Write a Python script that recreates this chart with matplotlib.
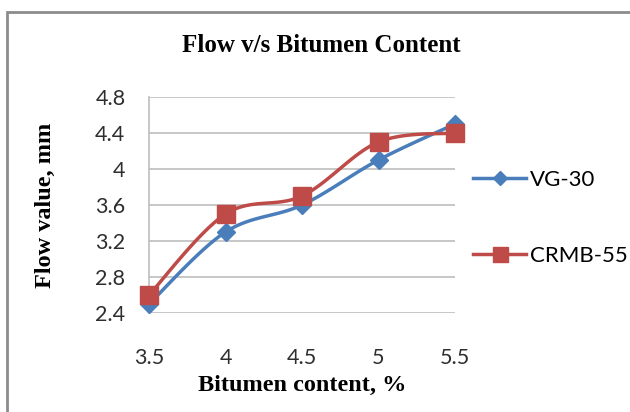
import numpy as np
import matplotlib.pyplot as plt
from matplotlib.patches import Rectangle

# data
bitumen = [3.5, 4.0, 4.5, 5.0, 5.5]
vg30 = [2.5, 3.3, 3.6, 4.1, 4.5]
crmb55 = [2.6, 3.5, 3.7, 4.3, 4.4]
yticks = [2.4, 2.8, 3.2, 3.6, 4.0, 4.4, 4.8]
ylabels = ['2.4', '2.8', '3.2', '3.6', '4', '4.4', '4.8']
xticks = [3.5, 4.0, 4.5, 5.0, 5.5]
xlabels = ['3.5', '4', '4.5', '5', '5.5']

blue = '#4A7EBB'
red = '#BE4B48'
grid_c = '#BDBDBD'


def smooth(x, y, n=30):
    # Excel-like smoothed line: cubic bezier through the points (Catmull-Rom)
    x = np.asarray(x, float)
    y = np.asarray(y, float)
    px = np.concatenate([[x[0]], x, [x[-1]]])
    py = np.concatenate([[y[0]], y, [y[-1]]])
    xs, ys = [], []
    t = np.linspace(0, 1, n)
    for i in range(1, len(px) - 2):
        p0 = np.array([px[i], py[i]])
        p3 = np.array([px[i + 1], py[i + 1]])
        c1 = p0 + (np.array([px[i + 1], py[i + 1]]) - np.array([px[i - 1], py[i - 1]])) / 6
        c2 = p3 - (np.array([px[i + 2], py[i + 2]]) - np.array([px[i], py[i]])) / 6
        b = ((1 - t) ** 3)[:, None] * p0 + (3 * (1 - t) ** 2 * t)[:, None] * c1 \
            + (3 * (1 - t) * t ** 2)[:, None] * c2 + (t ** 3)[:, None] * p3
        xs.extend(b[:, 0])
        ys.extend(b[:, 1])
    return xs, ys


fig = plt.figure(figsize=(6.3, 4.12), dpi=100)
ax = fig.add_axes([149 / 630, 1 - 313 / 412, 306 / 630, 216 / 412])

tick_font = 'Lato'
serif = 'Liberation Serif'

for vals, col, mk, ms, lab in [(vg30, blue, 'D', 9, 'VG-30'),
                              (crmb55, red, 's', 13.5, 'CRMB-55')]:
    sx, sy = smooth(bitumen, vals)
    ax.plot(sx, sy, color=col, lw=2.5, solid_capstyle='round', zorder=3)
    ax.plot(bitumen, vals, ls='none', marker=mk, ms=ms, color=col,
            mec=col, zorder=4, clip_on=False)
    ax.plot([], [], color=col, lw=2.5, marker=mk, ms=ms * 0.8, label=lab)

ax.set_xlim(3.5, 5.5)
ax.set_ylim(2.4, 4.8)
ax.set_yticks(yticks)
ax.set_yticklabels(ylabels, fontsize=15.5, family=tick_font, color='#2E2E2E')
ax.set_xticks(xticks)
ax.set_xticklabels(xlabels, fontsize=15.5, family=tick_font, color='#2E2E2E')
ax.tick_params(axis='y', length=0, pad=17)
ax.tick_params(axis='x', length=0, pad=25)
ax.yaxis.grid(True, color=grid_c, lw=1.2)
ax.set_axisbelow(True)
for s in ['top', 'right', 'bottom']:
    ax.spines[s].set_visible(False)
ax.spines['left'].set_color(grid_c)
ax.spines['left'].set_linewidth(1.2)

ax.set_ylabel('Flow value, mm', fontsize=17.5, family=serif, fontweight='bold', labelpad=28)
ax.set_xlabel('Bitumen content, %', fontsize=17.5, family=serif, fontweight='bold', labelpad=5)
fig.text(321 / 630, 1 - 45 / 412, 'Flow v/s Bitumen Content', ha='center', va='center',
         fontsize=18, family=serif, fontweight='bold')

leg = ax.legend(loc='center left', bbox_to_anchor=(0.995, 0.44), frameon=False,
                prop={'family': tick_font, 'size': 16}, handlelength=2.35,
                handletextpad=0.18, labelspacing=2.52)

# outer chart border
fig.patches.append(Rectangle((7 / 630, -0.05), 1.1, 1 - 12 / 412 + 0.05,
                             transform=fig.transFigure, fill=False,
                             edgecolor='#8C8C8C', lw=2))

fig.savefig('out.png', dpi=100)
